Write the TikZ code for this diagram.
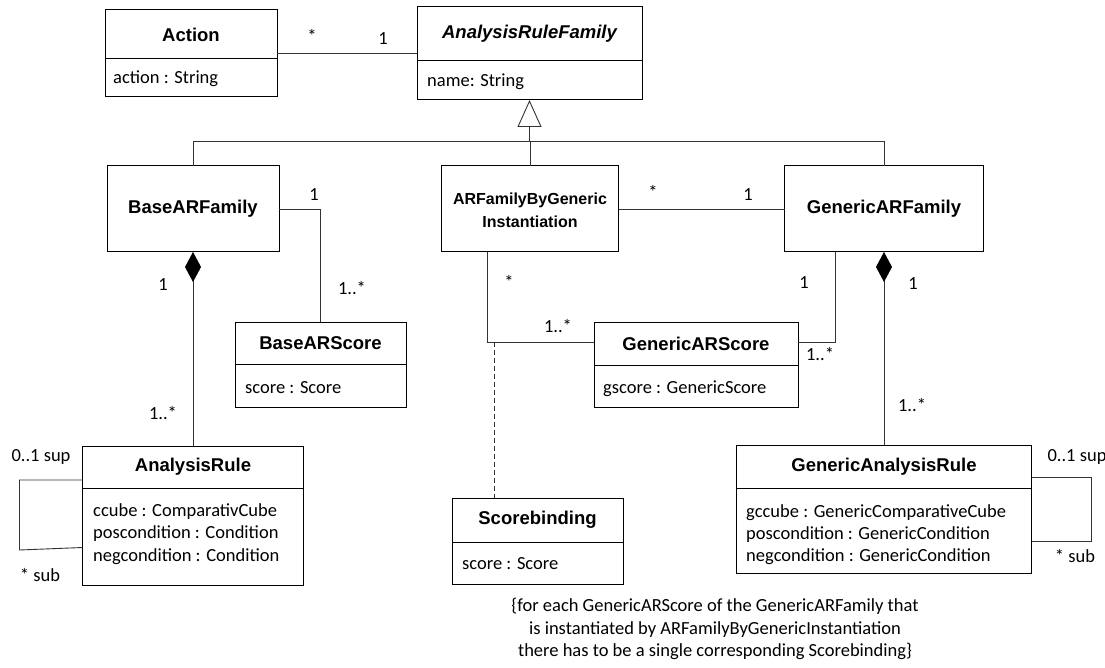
\documentclass[tikz,border=0pt]{standalone}
\usepackage{fontspec}
\setmainfont{Carlito}
\newfontfamily\arialfont{Liberation Sans}
\usetikzlibrary{arrows.meta}
\begin{document}
\begin{tikzpicture}[x=1pt,y=-1pt,
  cls/.style={draw=black, line width=1pt, inner sep=0pt, outer sep=0pt, fill=white},
  div/.style={draw=black, line width=1pt},
  ttl/.style={font=\arialfont\bfseries\fontsize{18.5}{22}\selectfont, inner sep=0pt},
  attr/.style={font=\fontsize{18.5}{22}\selectfont, anchor=base west, inner sep=0pt},
  mult/.style={font=\fontsize{18.5}{22}\selectfont, inner sep=0pt},
  conn/.style={draw=black!80, line width=0.9pt},
  comp/.style={{Diamond[length=30pt, width=16pt, color=black]}-},
]
\useasboundingbox (0,0) rectangle (1105,668);

% ---------- boxes ----------
\node[cls, minimum width=172pt, minimum height=87pt] (action) at (191,53.5) {};
\node[cls, minimum width=225pt, minimum height=93pt] (arf) at (529.5,53.5) {};
\node[cls, minimum width=172pt, minimum height=86pt] (basearf) at (193,209) {};
\node[cls, minimum width=177pt, minimum height=86pt] (arfbgi) at (530,209) {};
\node[cls, minimum width=199pt, minimum height=86pt] (genarf) at (884,209) {};
\node[cls, minimum width=171pt, minimum height=85pt] (basescore) at (320.5,364.5) {};
\node[cls, minimum width=204pt, minimum height=85pt] (genscore) at (696,364.5) {};
\node[cls, minimum width=221pt, minimum height=139pt] (ar) at (193,515.5) {};
\node[cls, minimum width=295pt, minimum height=128pt] (gar) at (884,509) {};
\node[cls, minimum width=171pt, minimum height=86pt] (sb) at (537.5,541) {};

% ---------- compartments ----------
\draw[div] (action.west |- 0,59) -- (action.east |- 0,59);
\draw[div] (arf.west |- 0,61) -- (arf.east |- 0,61);
\draw[div] (basescore.west |- 0,364) -- (basescore.east |- 0,364);
\draw[div] (genscore.west |- 0,365) -- (genscore.east |- 0,365);
\draw[div] (ar.west |- 0,488) -- (ar.east |- 0,488);
\draw[div] (gar.west |- 0,488) -- (gar.east |- 0,488);
\draw[div] (sb.west |- 0,542) -- (sb.east |- 0,542);

% ---------- titles ----------
\node[ttl] (actiont) at (191,34.5) {Action};
\node[ttl, font=\arialfont\bfseries\itshape\fontsize{18.5}{22}\selectfont] (arft) at (529.5,34) {AnalysisRuleFamily};
\node[ttl] (basearft) at (193,209) {BaseARFamily};
\node[ttl, align=center, font=\arialfont\bfseries\fontsize{16}{23}\selectfont] (arfbgit) at (530,210.5) {ARFamilyByGeneric\\Instantiation};
\node[ttl] (genarft) at (884,209) {GenericARFamily};
\node[ttl] (basescoret) at (320.5,343) {BaseARScore};
\node[ttl] (genscoret) at (696,343.5) {GenericARScore};
\node[ttl] (art) at (193,467) {AnalysisRule};
\node[ttl] (gart) at (884,466.5) {GenericAnalysisRule};
\node[ttl] (sbt) at (537.5,520) {Scorebinding};

% ---------- attributes ----------
\node[attr] (actiona) at (113,84) {action : String};
\node[attr] (arfa) at (427,86.5) {name: String};
\node[attr] (basescorea) at (245,393) {score : Score};
\node[attr] (genscorea) at (603,393) {gscore : GenericScore};
\node[attr] (ara1) at (93,516) {ccube : ComparativCube};
\node[attr] (ara2) at (93,538) {poscondition : Condition};
\node[attr] (ara3) at (93,561) {negcondition : Condition};
\node[attr] (gara1) at (746,517) {gccube : GenericComparativeCube};
\node[attr] (gara2) at (746,539) {poscondition : GenericCondition};
\node[attr] (gara3) at (746,561) {negcondition : GenericCondition};
\node[attr] (sba) at (462,569) {score : Score};

% ---------- generalization ----------
\coordinate (bus) at (529.5,141);
\draw[conn, -{Triangle[open, length=27pt, width=24pt, fill=white]}] (bus) -- (arf.south);
\draw[conn] (basearf.north) -- (basearf.north |- bus) -- (genarf.north |- bus) -- (genarf.north);
\draw[conn] (arfbgi.north) -- (arfbgi.north |- bus);

% ---------- associations ----------
\draw[conn] (action) -- (arf);
\draw[conn] (basearf.east) -| (basescore.north);
\draw[conn] (arfbgi) -- (genarf);
\draw[conn] ([xshift=-43pt]arfbgi.south) |- ([yshift=22.5pt]genscore.west);
\draw[conn] ([xshift=-49pt]genarf.south) |- ([yshift=22.5pt]genscore.east);
\coordinate (dashtop) at (494,342);
\draw[conn, dashed, dash pattern=on 5pt off 3pt] (dashtop) -- (dashtop |- sb.north);

% ---------- compositions ----------
\draw[conn, comp] (basearf.south) -- (ar.north);
\draw[conn, comp] (genarf.south) -- (gar.north);

% ---------- self associations ----------
\draw[conn] ([yshift=35.5pt]ar.west) -- ++(-63,0) -- ++(0,70) -- ([yshift=-32pt]ar.west);
\draw[conn] ([yshift=32pt]gar.east) -- ++(60,0) -- ++(0,64) -- ([yshift=-32pt]gar.east);

% ---------- multiplicities ----------
\node[mult] (m1) at (312,36) {*};
\node[mult] (m2) at (383,39) {1};
\node[mult] (m3) at (314,195) {1};
\node[mult] (m4) at (352,288) {1..*};
\node[mult] (m5) at (163,285) {1};
\node[mult] (m6) at (163,413) {1..*};
\node[mult] (m7) at (653,192) {*};
\node[mult] (m8) at (748,195) {1};
\node[mult] (m9) at (509,282) {*};
\node[mult] (m10) at (558,326) {1..*};
\node[mult] (m11) at (804,283) {1};
\node[mult] (m12) at (820,354) {1..*};
\node[mult] (m13) at (913,284) {1};
\node[mult] (m14) at (912,405) {1..*};
\node[mult] (m15) at (41,457) {0..1 sup};
\node[mult] (m16) at (40,575) {* sub};
\node[mult] (m17) at (1077,457) {0..1 sup};
\node[mult] (m18) at (1075,556) {* sub};

% ---------- constraint ----------
\node[mult, align=center, font=\fontsize{18.5}{22.5}\selectfont] (constraint) at (715,629)
  {\{for each GenericARScore of the GenericARFamily that\\is instantiated by ARFamilyByGenericInstantiation\\there has to be a single corresponding Scorebinding\}};
\end{tikzpicture}
\end{document}
